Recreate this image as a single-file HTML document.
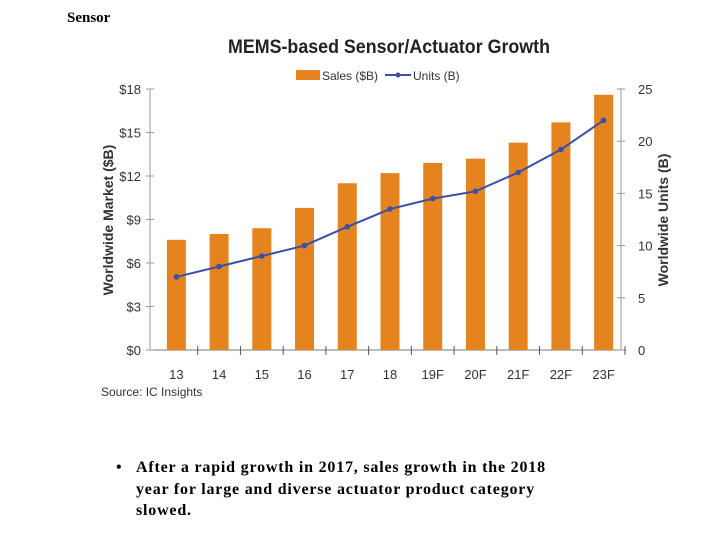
<!DOCTYPE html>
<html><head><meta charset="utf-8"><style>
body{margin:0;width:720px;height:540px;background:#fff;overflow:hidden;position:relative;font-family:"Liberation Serif",serif}
.s{position:absolute}
</style></head><body>
<div class="s" style="left:67px;top:10px;font-size:15px;font-weight:bold">Sensor</div>
<svg class="s" style="left:0;top:0" width="720" height="540">
<g id="g"></g>
</svg>
<div class="s" style="left:116px;top:457px;width:540px;font-size:16px;letter-spacing:0.8px;font-weight:bold;line-height:21.5px;white-space:nowrap">
<span style="position:absolute;left:0">•</span><div style="margin-left:20px">After a rapid growth in 2017, sales growth in the 2018<br>year for large and diverse actuator product category<br>slowed.</div></div>
<script>
const categories=["13","14","15","16","17","18","19F","20F","21F","22F","23F"];
const sales=[7.6,8.0,8.4,9.8,11.5,12.2,12.9,13.2,14.3,15.7,17.6];
const units=[7,8,9,10,11.8,13.5,14.5,15.2,17,19.2,22];
const leftTicks=[0,3,6,9,12,15,18];
const rightTicks=[0,5,10,15,20,25];
const NS="http://www.w3.org/2000/svg";
const g=document.getElementById('g');
const X0=155,X1=625,Y0=350,Y1=89;
const bw=(X1-X0)/categories.length;
const xc=i=>X0+bw*(i+0.5);
const yL=v=>Y0-(v/18)*(Y0-Y1);
const yR=v=>Y0-(v/25)*(Y0-Y1);
function mk(t,a,txt){const e=document.createElementNS(NS,t);for(const k in a)e.setAttribute(k,a[k]);if(txt!=null)e.textContent=txt;g.appendChild(e);return e;}
const F='"Liberation Sans Narrow","Liberation Sans",sans-serif';
let e;
e=mk('text',{x:228,y:53,textLength:322,lengthAdjust:'spacingAndGlyphs','font-family':F,'font-size':19,'font-weight':'bold',fill:'#222'},'MEMS-based Sensor/Actuator Growth');

e=mk('rect',{x:296,y:70,width:24,height:10,fill:'#E5841F'});

e=mk('text',{x:322,y:80,'font-family':F,'font-size':12,fill:'#333'},'Sales ($B)');

e=mk('line',{x1:385,y1:75,x2:411,y2:75,stroke:'#3A4FA8','stroke-width':2});

e=mk('circle',{cx:398,cy:75,r:2.5,fill:'#3A4FA8'});

e=mk('text',{x:413,y:80,'font-family':F,'font-size':12,fill:'#333'},'Units (B)');

e=mk('line',{x1:150,y1:Y1,x2:150,y2:Y0,stroke:'#999'});

e=mk('line',{x1:621,y1:Y1,x2:621,y2:Y0,stroke:'#999'});

e=mk('line',{x1:150,y1:Y0,x2:626,y2:Y0,stroke:'#777'});

leftTicks.forEach(v=>{
 mk('line',{x1:146,y1:yL(v),x2:154,y2:yL(v),stroke:'#999'});
 e=mk('text',{x:141,y:yL(v)+5,'text-anchor':'end','font-family':F,'font-size':13,fill:'#333'},'$'+v);
 
});
rightTicks.forEach(v=>{
 mk('line',{x1:617,y1:yR(v),x2:625,y2:yR(v),stroke:'#999'});
 e=mk('text',{x:638,y:yR(v)+5,'font-family':F,'font-size':13,fill:'#333'},String(v));
 
});
categories.forEach((c,i)=>{
 mk('line',{x1:X0+bw*(i+1),y1:Y0-4,x2:X0+bw*(i+1),y2:Y0+5,stroke:'#555'});
 e=mk('rect',{x:xc(i)-9.5,y:yL(sales[i]),width:19,height:Y0-yL(sales[i]),fill:'#E5841F'});
 
 e=mk('text',{x:xc(i),y:379,'text-anchor':'middle','font-family':F,'font-size':13,fill:'#333'},c);
 
});
e=mk('polyline',{points:units.map((v,i)=>xc(i)+','+yR(v)).join(' '),fill:'none',stroke:'#3A4FA8','stroke-width':2});

units.forEach((v,i)=>{
 e=mk('circle',{cx:xc(i),cy:yR(v),r:2.8,fill:'#3A4FA8'});
 
});
e=mk('text',{x:0,y:0,transform:'translate(113,220) rotate(-90)','text-anchor':'middle','font-family':F,'font-size':14,'font-weight':'bold',fill:'#333'},'Worldwide Market ($B)');

e=mk('text',{x:0,y:0,transform:'translate(668,220) rotate(-90)','text-anchor':'middle','font-family':F,'font-size':14,'font-weight':'bold',fill:'#333'},'Worldwide Units (B)');

e=mk('text',{x:101,y:396,'font-family':F,'font-size':12,fill:'#333'},'Source: IC Insights');

</script>
</body></html>
